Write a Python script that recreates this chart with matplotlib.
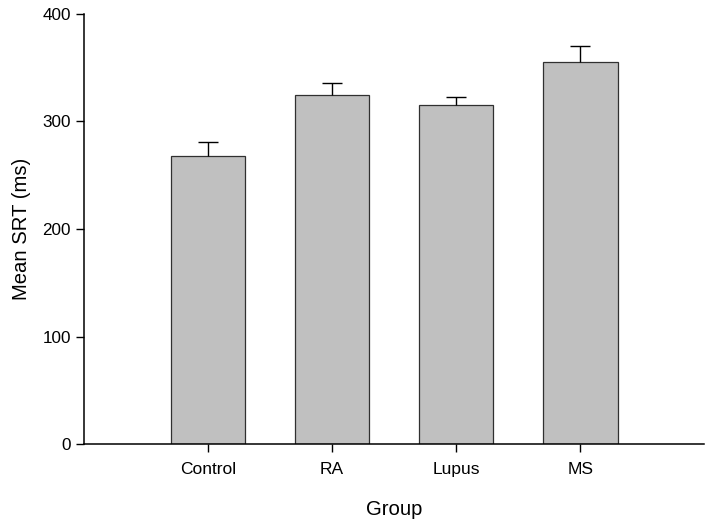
import matplotlib
matplotlib.use("Agg")
import matplotlib.pyplot as plt

groups = ["Control", "RA", "Lupus", "MS"]
means = [268, 324, 315, 355]
errors = [13, 12, 8, 15]
yticks = [0, 100, 200, 300, 400]

plt.rcParams['font.family'] = ['Liberation Sans', 'DejaVu Sans']

fig = plt.figure(figsize=(7.09, 5.24), dpi=100)
ax = fig.add_axes([0.1185, 0.152, 0.875, 0.822])

x = list(range(len(groups)))
ax.bar(x, means, width=0.6, color="#c0c0c0", edgecolor="#303030", linewidth=0.9, zorder=2)
eb = ax.errorbar(x, means, yerr=[[0]*len(errors), errors], fmt="none", ecolor="black",
                 elinewidth=1.0, capsize=7, capthick=1.0, zorder=3)
# show only the upper caps
caps = eb[1]
if len(caps) >= 2:
    caps[0].set_visible(False)

ax.set_xlim(-1, 4)
ax.set_ylim(0, 400)
ax.set_yticks(yticks)
ax.set_xticks(x)
ax.set_xticklabels(groups, fontsize=12.5)
ax.tick_params(axis='y', labelsize=12.3, direction='out', length=6, width=1)
ax.tick_params(axis='x', direction='out', length=6, width=1, pad=7)
ax.spines['top'].set_visible(False)
ax.spines['right'].set_visible(False)
ax.spines['left'].set_linewidth(1.1)
ax.spines['bottom'].set_linewidth(1.1)
ax.set_ylabel("Mean SRT (ms)", fontsize=14.6, labelpad=8)
ax.set_xlabel("Group", fontsize=14.6, labelpad=16)

fig.savefig("out.png", dpi=100)
